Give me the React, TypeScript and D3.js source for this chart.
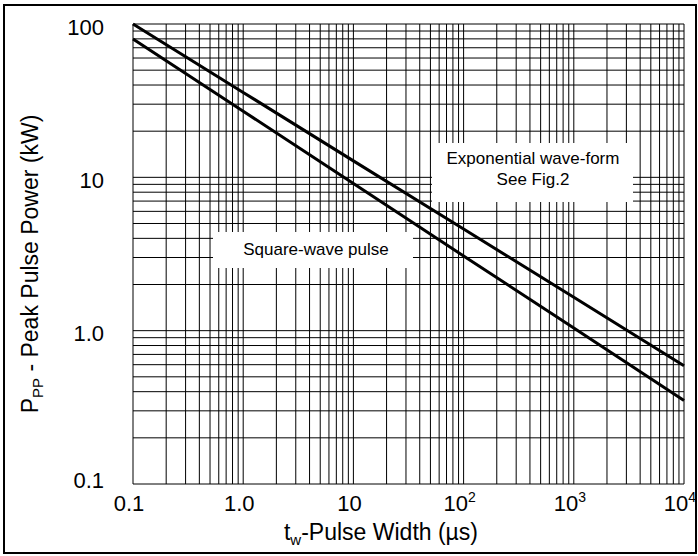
import { useEffect, useRef } from "react";
import * as d3 from "d3";

// pulse width (µs) at each decade
const pulseWidths = [0.1, 1, 10, 100, 1000, 10000];
// peak pulse power (kW)
const exponentialPower = [100, 35.8, 12.8, 4.6, 1.65, 0.59];
const squarePower = [79.8, 27, 9.1, 3.07, 1.04, 0.35];

const yTicks = [100, 10, 1, 0.1];
const yTickLabels = ["100", "10", "1.0", "0.1"];
const xTicks = [0.1, 1, 10, 100, 1000, 10000];
const xTickBase = ["0.1", "1.0", "10", "10", "10", "10"];
const xTickExp = ["", "", "", "2", "3", "4"];

const FONT = "'Liberation Sans', Arial, sans-serif";

export default function App() {
  const ref = useRef<SVGSVGElement | null>(null);

  useEffect(() => {
    document.body.style.margin = "0";
    const svg = d3.select(ref.current);
    svg.selectAll("*").remove();

    const width = 698;
    const height = 556;
    const plot = { left: 133, right: 684, top: 24, bottom: 484 };

    const x = d3.scaleLog().domain([0.1, 10000]).range([plot.left, plot.right]);
    const y = d3.scaleLog().domain([0.1, 100]).range([plot.bottom, plot.top]);

    svg.append("rect").attr("width", width).attr("height", height).attr("fill", "#fff");
    svg
      .append("rect")
      .attr("x", 4)
      .attr("y", 5)
      .attr("width", 692)
      .attr("height", 548)
      .attr("fill", "none")
      .attr("stroke", "#000")
      .attr("stroke-width", 2);

    // log grid: 1..9 in every decade
    const gridX: number[] = [];
    [0.1, 1, 10, 100, 1000].forEach((d) => d3.range(1, 10).forEach((m) => gridX.push(d * m)));
    gridX.push(10000);
    const gridY: number[] = [];
    [0.1, 1, 10].forEach((d) => d3.range(1, 10).forEach((m) => gridY.push(d * m)));
    gridY.push(100);

    const grid = svg.append("g").attr("stroke", "#000").attr("stroke-width", 1);
    grid
      .selectAll("line.gx")
      .data(gridX)
      .join("line")
      .attr("x1", (d) => x(d))
      .attr("x2", (d) => x(d))
      .attr("y1", plot.top)
      .attr("y2", plot.bottom);
    grid
      .selectAll("line.gy")
      .data(gridY)
      .join("line")
      .attr("y1", (d) => y(d))
      .attr("y2", (d) => y(d))
      .attr("x1", plot.left)
      .attr("x2", plot.right);

    // label boxes blank out the grid
    svg.append("rect").attr("x", 432).attr("y", 143).attr("width", 201).attr("height", 59).attr("fill", "#fff");
    svg.append("rect").attr("x", 213).attr("y", 232).attr("width", 200).attr("height", 36).attr("fill", "#fff");

    const label = (tx: number, ty: number, s: string) =>
      svg
        .append("text")
        .attr("x", tx)
        .attr("y", ty)
        .attr("text-anchor", "middle")
        .attr("font-family", FONT)
        .attr("font-size", 17)
        .attr("fill", "#000")
        .text(s);
    label(533, 164, "Exponential wave-form");
    label(533, 185, "See Fig.2");
    label(316, 255, "Square-wave pulse");

    const line = d3
      .line<number>()
      .x((_, i) => x(pulseWidths[i]))
      .y((d) => y(d));

    [exponentialPower, squarePower].forEach((s) => {
      svg
        .append("path")
        .datum(s)
        .attr("fill", "none")
        .attr("stroke", "#000")
        .attr("stroke-width", 3)
        .attr("d", line);
    });

    // y tick labels
    svg
      .append("g")
      .selectAll("text")
      .data(yTicks)
      .join("text")
      .attr("x", 104)
      .attr("y", (d) => Math.min(y(d) + 5, plot.bottom - 2))
      .attr("dominant-baseline", "middle")
      .attr("text-anchor", "end")
      .attr("font-family", FONT)
      .attr("font-size", 22)
      .text((_, i) => yTickLabels[i]);

    // x tick labels
    const xt = svg
      .append("g")
      .selectAll("text")
      .data(xTicks)
      .join("text")
      .attr("x", (d) => x(d) - 4)
      .attr("y", 511)
      .attr("text-anchor", "middle")
      .attr("font-family", FONT)
      .attr("font-size", 22);
    xt.append("tspan").text((_, i) => xTickBase[i]);
    xt.append("tspan")
      .attr("dy", -9)
      .attr("font-size", 14)
      .text((_, i) => xTickExp[i]);

    // axis titles
    const xTitle = svg
      .append("text")
      .attr("x", 381)
      .attr("y", 540)
      .attr("text-anchor", "middle")
      .attr("font-family", FONT)
      .attr("font-size", 23);
    xTitle.append("tspan").text("t");
    xTitle.append("tspan").attr("font-size", 15).attr("dy", 5).text("w");
    xTitle.append("tspan").attr("dy", -5).text("-Pulse Width (µs)");

    const yTitle = svg
      .append("text")
      .attr("transform", "translate(38,264) rotate(-90)")
      .attr("text-anchor", "middle")
      .attr("font-family", FONT)
      .attr("font-size", 23);
    yTitle.append("tspan").text("P");
    yTitle.append("tspan").attr("font-size", 15).attr("dy", 5).text("PP");
    yTitle.append("tspan").attr("dy", -5).text(" - Peak Pulse Power (kW)");
  }, []);

  return <svg ref={ref} width={698} height={556} style={{ display: "block" }} />;
}
